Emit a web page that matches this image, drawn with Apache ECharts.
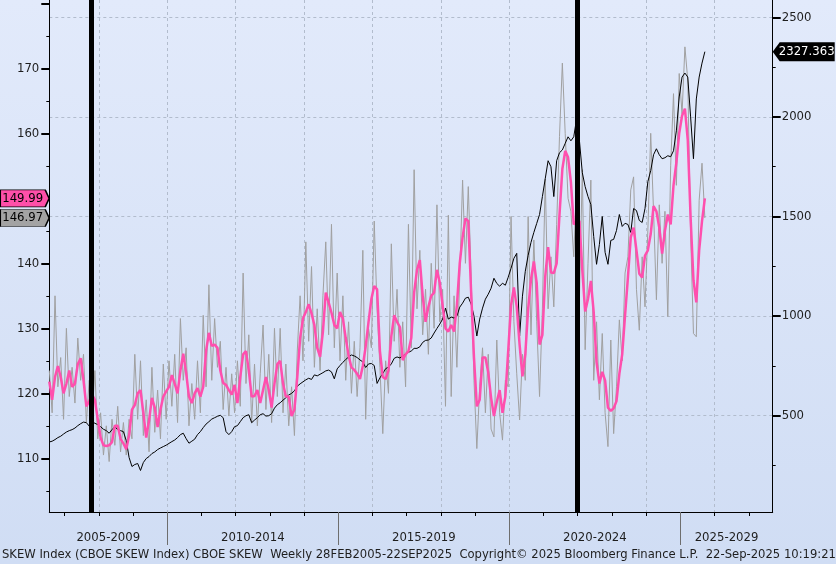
<!DOCTYPE html>
<html><head><meta charset="utf-8">
<script src="https://cdn.jsdelivr.net/npm/echarts@6/dist/echarts.min.js"></script>
<style>html,body{margin:0;padding:0;width:836px;height:564px;overflow:hidden}#c{width:836px;height:564px}</style>
</head><body><div id="c"></div><script>
// ---- data (monthly samples) ----
const startYear = 2006.55;
const stepYears = 1 / 12;
const skewWeekly = [
123.5,117.0,135.0,121.0,125.5,116.0,130.0,119.5,124.0,118.5,
128.5,122.0,126.0,115.5,122.0,116.5,123.5,113.0,117.0,110.5,
115.0,109.5,116.0,112.0,118.0,111.0,115.5,110.5,116.0,113.0,
126.0,116.0,125.0,113.5,119.0,111.0,124.0,114.0,120.5,113.0,
124.5,116.0,125.0,118.0,126.0,115.5,131.5,122.0,127.0,115.0,
121.5,116.0,125.0,117.0,132.0,121.0,136.7,122.0,131.5,124.0,
128.0,117.5,124.0,116.5,123.0,117.0,125.0,118.0,138.5,121.5,
129.0,115.5,124.5,115.0,123.0,130.5,117.5,126.0,115.5,130.0,
119.5,130.0,117.0,124.5,115.0,121.0,113.5,126.5,135.0,125.0,
143.3,128.0,139.5,124.0,133.0,123.5,135.0,143.3,129.0,146.0,
127.0,138.5,125.0,135.0,122.0,131.0,120.0,128.0,119.5,127.0,
142.0,116.0,130.0,127.0,146.5,133.0,124.0,113.8,125.0,120.0,
143.0,128.0,136.0,124.0,131.0,121.0,146.0,127.0,154.4,133.0,
142.0,129.0,136.0,126.0,140.0,130.0,149.0,131.0,136.0,118.0,
147.4,119.5,135.0,124.0,138.0,152.8,140.0,151.8,138.0,122.0,
111.5,121.0,127.0,117.0,126.0,114.5,113.3,128.2,117.0,112.8,
122.0,121.0,147.2,131.0,123.0,115.9,126.0,122.0,147.2,129.0,
143.6,131.0,119.5,133.0,153.0,133.0,141.0,133.3,146.0,159.5,
170.8,160.0,150.0,148.0,141.0,152.0,134.8,154.4,126.7,140.0,
152.8,122.0,131.0,119.0,129.2,117.0,111.8,128.2,113.8,121.0,
131.3,125.0,138.5,141.0,151.3,153.3,136.0,129.7,141.0,133.3,
145.0,160.0,148.0,134.4,149.0,140.0,148.0,131.8,155.0,166.1,
152.0,169.2,163.0,173.3,168.2,144.6,129.2,128.7,149.7,155.4,
146.97
];
const skewAvg = [
121.8,119.0,122.5,124.2,122.5,120.0,121.5,123.5,121.0,121.5,
124.5,125.4,122.0,118.0,118.8,119.8,119.0,116.0,113.2,112.0,
111.9,112.0,112.5,115.0,115.0,113.0,112.3,111.4,113.5,117.5,
118.2,120.0,120.5,117.0,113.2,115.8,119.3,117.8,114.8,117.5,
119.5,120.3,121.0,122.8,121.5,120.0,123.5,126.1,123.2,119.5,
118.5,120.0,120.8,119.5,121.0,126.5,129.3,127.3,127.5,127.0,
123.5,121.6,121.3,120.5,119.8,121.3,118.5,122.5,126.0,126.5,
123.5,119.5,119.6,120.5,118.5,120.5,122.5,120.5,117.8,121.5,
124.5,125.0,121.5,119.5,119.5,116.5,117.5,122.5,128.5,131.5,
132.5,133.7,132.3,130.5,127.0,125.6,129.5,135.5,134.0,132.4,
130.5,130.0,132.5,131.5,128.5,125.8,124.0,123.6,123.0,122.2,
124.2,127.2,131.0,134.5,136.5,136.0,126.5,122.5,122.2,123.5,
128.8,132.0,131.0,130.2,125.1,126.0,126.5,128.5,135.5,139.0,
140.5,135.0,131.0,133.3,135.0,135.5,139.0,137.0,133.5,130.0,
129.5,130.5,129.5,133.5,140.0,144.0,146.9,146.5,135.5,125.5,
118.0,119.0,125.5,125.5,123.2,119.3,116.5,118.7,120.5,117.0,
119.5,126.5,133.5,136.3,133.3,127.5,122.6,126.0,133.0,137.5,
140.3,137.0,127.5,129.0,138.0,142.5,138.6,138.5,140.0,147.5,
154.5,157.3,156.3,152.5,146.0,146.5,146.5,139.0,132.6,134.5,
137.3,132.5,124.8,121.5,123.3,122.0,117.8,117.3,117.7,118.8,
123.0,126.0,132.0,137.8,144.0,145.5,142.0,138.4,137.8,141.2,
142.0,144.5,148.8,148.0,145.5,141.5,145.0,147.5,146.0,152.0,
155.5,160.0,162.7,163.8,159.0,147.0,137.4,134.0,142.0,146.5,
149.99
];
const indexLevel = [
368,372,380,390,397,408,418,425,430,438,
450,460,468,465,448,470,462,455,445,432,
425,412,430,445,430,425,420,375,290,245,
255,260,225,265,285,295,310,318,330,338,
345,352,361,370,378,390,405,412,385,362,
372,382,405,420,440,458,470,483,490,497,
502,490,420,405,420,445,450,470,490,500,
505,465,478,490,505,510,498,500,510,538,
555,565,578,590,604,612,625,648,660,670,
680,688,682,705,700,708,716,725,729,720,
685,735,752,768,782,795,805,800,792,780,
770,742,760,762,752,662,690,712,736,744,
760,788,795,790,800,810,818,825,838,838,
846,868,878,880,890,915,938,960,985,1040,
985,995,990,1000,1045,1065,1090,1095,1060,1000,
900,985,1040,1085,1110,1140,1190,1164,1150,1165,
1155,1195,1240,1290,1315,900,1100,1225,1305,1370,
1420,1465,1510,1600,1690,1780,1750,1600,1780,1820,
1834,1867,1900,1880,1900,1990,1880,1720,1650,1600,
1560,1400,1260,1360,1500,1320,1260,1380,1385,1430,
1510,1450,1466,1460,1420,1540,1530,1480,1470,1540,
1675,1730,1810,1840,1810,1790,1795,1805,1800,1830,
1930,2100,2200,2220,2200,2000,1790,2090,2200,2270,
2327.363
];
const peakDates = [2007.78, 2021.99];
const blockLabels = ['2005-2009', '2010-2014', '2015-2019', '2020-2024', '2025-2029'];
const blockStarts = [2005, 2010, 2015, 2020, 2025];
const yearTicks = [2007,2008,2009,2010,2011,2012,2013,2014,2015,2016,2017,2018,2019,2020,2021,2022,2023,2024,2025,2026,2027];
const gridYears = [2008,2010,2012,2014,2016,2018,2020,2022,2024,2026];
const leftLabels = [110,120,130,140,150,160,170];
const leftMajor = [110,120,130,140,150,160,170,180];
const leftMinor = [105,115,125,135,145,155,165,175];
const rightLabels = [500,1000,1500,2000,2500];
const rightMinor = [250,750,1250,1750,2250];
const footer = 'SKEW Index (CBOE SKEW Index) CBOE SKEW  Weekly 28FEB2005-22SEP2025  Copyright\u00A9 2025 Bloomberg Finance L.P.  22-Sep-2025 10:19:21';

// ---- axis ranges ----
const XMIN = 2006.55, XMAX = 2027.70;
const LMIN = 101.74, LMAX = 180.51;
const RMIN = 16.6, RMAX = 2586.8;

const toPairs = arr => arr.map((v, i) => [startYear + i * stepYears, v]);
const blockMids = blockStarts.map(s => (Math.max(s, XMIN) + Math.min(s + 5, XMAX)) / 2);
const separators = blockStarts.filter(s => s > XMIN && s < XMAX);

const FONT = "'DejaVu Sans Condensed', 'Liberation Sans', sans-serif";
const FOOTFONT = "'DejaVu Sans', 'Liberation Sans', sans-serif";
const TXT = '#1e1e1e';
const lastGray = skewWeekly[skewWeekly.length - 1];
const lastPink = skewAvg[skewAvg.length - 1];
const lastBlack = indexLevel[indexLevel.length - 1];

const baseX = { type: 'value', min: XMIN, max: XMAX, position: 'bottom', gridIndex: 0 };
const baseL = { type: 'value', min: LMIN, max: LMAX, position: 'left' };
const baseR = { type: 'value', min: RMIN, max: RMAX, position: 'right' };

const chart = echarts.init(document.getElementById('c'), null, { renderer: 'canvas' });
chart.setOption({
  animation: false,
  backgroundColor: new echarts.graphic.LinearGradient(0, 0, 0, 1, [
    { offset: 0, color: '#e2eafb' }, { offset: 1, color: '#d0ddf4' }
  ]),
  title: {
    text: footer, left: 2, top: 549, padding: 0,
    textStyle: { fontSize: 11.6, fontWeight: 'normal', fontFamily: FOOTFONT, color: TXT }
  },
  grid: { left: 49.3, right: 63.3, top: 0, bottom: 52, containLabel: false },
  xAxis: [
    Object.assign({}, baseX, {
      axisLine: { onZero: false, lineStyle: { color: '#000', width: 1 } },
      axisTick: { show: true, customValues: yearTicks, length: 4, lineStyle: { color: '#000' } },
      axisLabel: { show: false }, splitLine: { show: false }
    }),
    Object.assign({}, baseX, {
      axisLine: { show: false, onZero: false },
      axisTick: { show: false, customValues: gridYears },
      axisLabel: { show: false },
      splitLine: { show: true, lineStyle: { color: '#b2bccd', width: 1, type: [3, 3] } }
    }),
    Object.assign({}, baseX, {
      axisLine: { show: false, onZero: false },
      axisTick: { show: true, customValues: separators, length: 33, lineStyle: { color: '#6e6e6e', width: 1 } },
      axisLabel: {
        show: true, customValues: blockMids, margin: 19,
        fontSize: 13, fontFamily: FONT, color: TXT,
        formatter: v => {
          const i = blockMids.findIndex(m => Math.abs(m - v) < 1e-6);
          return i >= 0 ? blockLabels[i] : '';
        }
      },
      splitLine: { show: false }
    })
  ],
  yAxis: [
    Object.assign({}, baseL, {
      axisLine: { show: true, onZero: false, lineStyle: { color: '#000', width: 1 } },
      axisTick: { show: true, customValues: leftMajor, length: 8, lineStyle: { color: '#000', width: 2 } },
      axisLabel: { show: true, customValues: leftLabels, margin: 10, fontSize: 13, fontFamily: FONT, color: TXT,
                   formatter: v => String(v) },
      splitLine: { show: false }
    }),
    Object.assign({}, baseL, {
      axisLine: { show: false, onZero: false },
      axisTick: { show: true, customValues: leftMinor, length: 3, lineStyle: { color: '#000', width: 1 } },
      axisLabel: { show: false }, splitLine: { show: false }
    }),
    Object.assign({}, baseR, {
      axisLine: { show: true, onZero: false, lineStyle: { color: '#000', width: 1 } },
      axisTick: { show: true, customValues: rightLabels, length: 8, lineStyle: { color: '#000', width: 2 } },
      axisLabel: { show: true, customValues: rightLabels, margin: 9, fontSize: 13, fontFamily: FONT, color: TXT,
                   formatter: v => String(v) },
      splitLine: { show: true, lineStyle: { color: '#b2bccd', width: 1, type: [3, 3] } }
    }),
    Object.assign({}, baseR, {
      axisLine: { show: false, onZero: false },
      axisTick: { show: true, customValues: rightMinor, length: 3, lineStyle: { color: '#000', width: 1 } },
      axisLabel: { show: false }, splitLine: { show: false }
    })
  ],
  series: [
    {
      name: 'SKEW', type: 'line', xAxisIndex: 0, yAxisIndex: 0, z: 2,
      data: toPairs(skewWeekly), showSymbol: false, symbol: 'none',
      lineStyle: { color: '#a0a0a0', width: 1 },
      markPoint: {
        symbol: 'path://M0,0L45,0L49,8.5L45,17L0,17Z', symbolSize: [49, 17], symbolKeepAspect: false,
        symbolOffset: [-24.6, 0],
        itemStyle: { color: '#a3a3a3', borderColor: '#000', borderWidth: 1 },
        label: { show: true, position: 'inside', offset: [-2, 0], color: '#000', fontSize: 13, fontFamily: FONT,
                 formatter: p => Number(p.value).toFixed(2) },
        data: [{ coord: [XMIN, lastGray], value: lastGray }]
      }
    },
    {
      name: 'Index', type: 'line', xAxisIndex: 0, yAxisIndex: 2, z: 3,
      data: toPairs(indexLevel), showSymbol: false, symbol: 'none',
      lineStyle: { color: '#000', width: 1 },
      markPoint: {
        symbol: 'path://M0,9.5L7,0L62,0L62,19L7,19Z', symbolSize: [62, 19], symbolKeepAspect: false,
        symbolOffset: [31, 0],
        itemStyle: { color: '#000' },
        label: { show: true, position: 'inside', offset: [3, 0], color: '#fff', fontSize: 13, fontFamily: FONT,
                 formatter: p => Number(p.value).toFixed(3) },
        data: [{ coord: [XMAX, lastBlack], value: lastBlack }]
      }
    },
    {
      name: 'SKEW avg', type: 'line', xAxisIndex: 0, yAxisIndex: 0, z: 4,
      data: toPairs(skewAvg), showSymbol: false, symbol: 'none',
      lineStyle: { color: '#ff4fae', width: 2.5 },
      markPoint: {
        symbol: 'path://M0,0L45,0L49,8.5L45,17L0,17Z', symbolSize: [49, 17], symbolKeepAspect: false,
        symbolOffset: [-24.6, 0],
        itemStyle: { color: '#ff4fa9', borderColor: '#000', borderWidth: 1 },
        label: { show: true, position: 'inside', offset: [-2, 0], color: '#000', fontSize: 13, fontFamily: FONT,
                 formatter: p => Number(p.value).toFixed(2) },
        data: [{ coord: [XMIN, lastPink], value: lastPink }]
      },
      markLine: {
        silent: true, symbol: ['none', 'none'],
        lineStyle: { color: '#000', width: 5, type: 'solid' },
        label: { show: false },
        data: peakDates.map(d => ({ xAxis: d }))
      }
    }
  ]
});
</script></body></html>
